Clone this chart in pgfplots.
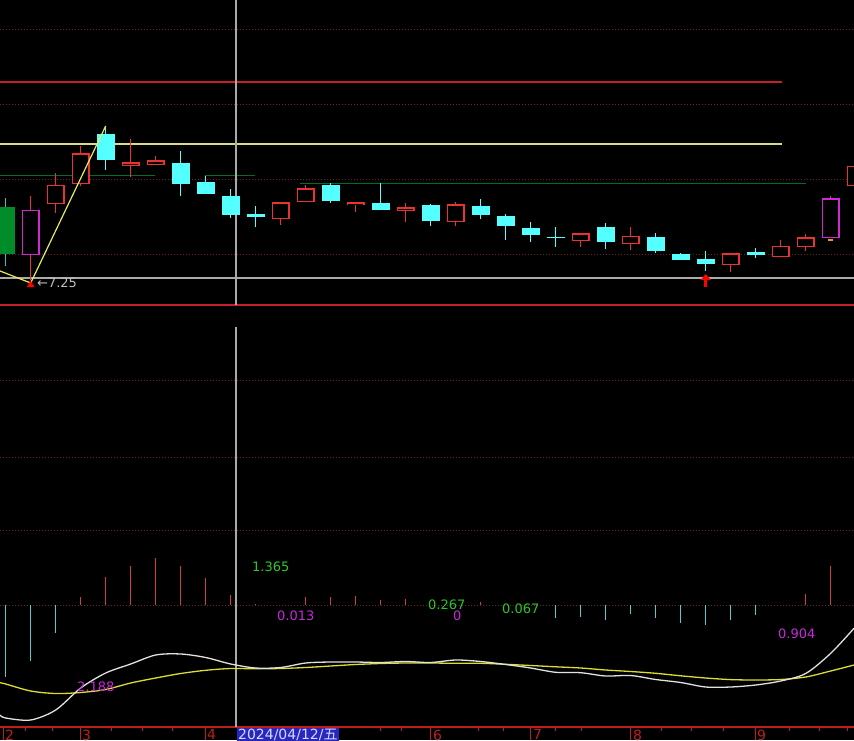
\documentclass[border=0pt]{standalone}
\usepackage{fontspec}
\setmainfont{DejaVu Sans}
\newfontfamily\cjk{Noto Sans CJK SC}
\usepackage{pgfplots}
\pgfplotsset{compat=1.18}
\usepackage{pgfplotstable}
\usetikzlibrary{arrows.meta}

\definecolor{kred}{RGB}{235,50,50}
\definecolor{kcyan}{RGB}{84,255,255}
\definecolor{kgreen}{RGB}{0,140,40}
\definecolor{kmag}{RGB}{210,40,210}
\definecolor{gridred}{RGB}{110,35,30}
\definecolor{linered}{RGB}{200,30,40}
\definecolor{lineyel}{RGB}{220,220,130}
\definecolor{linegrn}{RGB}{0,110,40}
\definecolor{crossg}{RGB}{170,170,170}
\definecolor{difw}{RGB}{225,225,225}
\definecolor{deay}{RGB}{220,220,50}
\definecolor{barred}{RGB}{210,60,60}
\definecolor{barcyan}{RGB}{90,200,210}
\definecolor{txtgreen}{RGB}{40,200,40}
\definecolor{txtmag}{RGB}{200,40,220}
\definecolor{axred}{RGB}{190,30,30}
\definecolor{datebox}{RGB}{40,40,190}

\newcommand\lbl{\fontsize{13}{15}\selectfont}
\newcommand\dlbl{\fontsize{14}{16}\selectfont}

% candles: index, high, body top, body bottom, low
\pgfplotstableread{
x hi top bot lo
4 7.558 7.541 7.490 7.469
7 7.507 7.483 7.442 7.417
8 7.457 7.446 7.422 7.422
9 7.431 7.418 7.380 7.373
10 7.398 7.381 7.375 7.355
13 7.443 7.440 7.407 7.403
15 7.443 7.403 7.390 7.390
17 7.401 7.399 7.367 7.357
19 7.411 7.398 7.380 7.371
20 7.381 7.377 7.357 7.329
21 7.365 7.353 7.340 7.325
22 7.355 7.335 7.333 7.315
24 7.363 7.355 7.325 7.311
26 7.343 7.335 7.307 7.303
27 7.303 7.301 7.290 7.289
28 7.307 7.291 7.281 7.267
30 7.313 7.305 7.299 7.293
}\downtab

\pgfplotstableread{
x hi top bot lo
2 7.464 7.440 7.402 7.384
3 7.518 7.503 7.442 7.437
5 7.531 7.485 7.478 7.455
6 7.497 7.489 7.479 7.479
11 7.405 7.405 7.372 7.360
12 7.440 7.433 7.405 7.405
14 7.405 7.405 7.399 7.385
16 7.403 7.395 7.387 7.365
18 7.405 7.401 7.365 7.357
23 7.343 7.343 7.327 7.315
25 7.355 7.338 7.322 7.310
29 7.303 7.303 7.280 7.265
31 7.329 7.318 7.295 7.295
32 7.341 7.335 7.315 7.308
34 7.478 7.478 7.437 7.437
}\uptab

\pgfplotstableread{
x hi top bot lo
0 7.414 7.395 7.302 7.277
}\greentab

\pgfplotstableread{
x hi top bot lo
1 7.417 7.390 7.299 7.250
33 7.418 7.413 7.333 7.333
}\magtab

% MACD histogram
\pgfplotstableread{
x v
0 -0.0717
1 -0.0557
2 -0.0283
3 0.0083
4 0.0283
5 0.0393
6 0.0467
7 0.0390
8 0.0273
9 0.0100
10 0.0010
12 0.0083
13 0.0083
14 0.0090
15 0.0050
16 0.0057
19 0.0033
22 -0.0133
23 -0.0123
24 -0.0150
25 -0.0090
26 -0.0133
27 -0.0177
28 -0.0200
29 -0.0150
30 -0.0100
32 0.0110
33 0.0390
}\histtab

% DIF (white) and DEA (yellow)
\pgfplotstableread{
x dif dea
-0.228 -0.1100 -0.0777
0 -0.1130 -0.0790
1 -0.1150 -0.0860
2 -0.1050 -0.0885
3 -0.0830 -0.0875
4 -0.0680 -0.0845
5 -0.0590 -0.0780
6 -0.0500 -0.0730
7 -0.0490 -0.0685
8 -0.0525 -0.0653
9 -0.0590 -0.0635
10 -0.0630 -0.0638
11 -0.0625 -0.0635
12 -0.0580 -0.0625
13 -0.0570 -0.0610
14 -0.0570 -0.0595
15 -0.0575 -0.0585
16 -0.0565 -0.0580
17 -0.0575 -0.0580
18 -0.0550 -0.0583
19 -0.0565 -0.0583
20 -0.0595 -0.0593
21 -0.0630 -0.0605
22 -0.0673 -0.0618
23 -0.0677 -0.0630
24 -0.0710 -0.0650
25 -0.0705 -0.0665
26 -0.0745 -0.0683
27 -0.0775 -0.0708
28 -0.0820 -0.0730
29 -0.0820 -0.0746
30 -0.0800 -0.0750
31 -0.0760 -0.0745
32 -0.0685 -0.0720
33 -0.0483 -0.0660
33.932 -0.0233 -0.0600
}\macdtab

\pgfplotsset{
  % vertical segment from y to y+v
  seg/.style={forget plot, mark=none, -, quiver/every arrow/.append style={-}, #1},
  hline/.style={forget plot, line width=1pt, #1},
  dotgrid/.style={forget plot, gridred, line width=1pt, dash pattern=on 1pt off 2pt},
}

\begin{document}
\begin{tikzpicture}
\path[use as bounding box] (0,0) rectangle (854pt,740pt);
\clip (0,0) rectangle (854pt,740pt);
\fill[black] (0,0) rectangle (854pt,740pt);

% ---------- price panel ----------
\begin{axis}[at={(0pt,434pt)}, anchor=south west, scale only axis,
  width=854pt, height=306pt,
  xmin=-0.228, xmax=33.932, ymin=7.198, ymax=7.81, hide axis]
  \addplot[dotgrid] coordinates {(-0.228,7.75) (33.932,7.75)};
  \addplot[dotgrid] coordinates {(-0.228,7.60) (33.932,7.60)};
  \addplot[dotgrid] coordinates {(-0.228,7.45) (33.932,7.45)};
  \addplot[dotgrid] coordinates {(-0.228,7.30) (33.932,7.30)};

  \addplot[hline={linered, line width=2pt}] coordinates {(-0.228,7.646) (31.05,7.646)};
  \addplot[hline={lineyel, line width=1.5pt}] coordinates {(-0.228,7.522) (31.05,7.522)};
  \addplot[hline={linegrn}] coordinates {(-0.228,7.458) (5.97,7.458)};
  \addplot[hline={linegrn}] coordinates {(7.97,7.458) (9.97,7.458)};
  \addplot[hline={linegrn}] coordinates {(11.77,7.442) (32.0,7.442)};
  \addplot[hline={crossg, line width=2pt}] coordinates {(-0.228,7.254) (33.932,7.254)};
  \addplot[hline={linered, line width=1.5pt}] coordinates {(-0.228,7.2) (33.932,7.2)};
  \addplot[hline={crossg, line width=1.5pt}] coordinates {(9.212,7.2) (9.212,7.81)};

  % wicks
  \addplot[seg={kcyan, line width=1.5pt}, quiver={u=0, v=\thisrow{hi}-\thisrow{lo}}] table[x=x, y=lo] {\downtab};
  \addplot[seg={kred, line width=1.5pt}, quiver={u=0, v=\thisrow{hi}-\thisrow{lo}}] table[x=x, y=lo] {\uptab};
  \addplot[seg={kcyan!75!black, line width=1.5pt}, quiver={u=0, v=\thisrow{hi}-\thisrow{lo}}] table[x=x, y=lo] {\greentab};
  \addplot[seg={kred, line width=1.5pt}, quiver={u=0, v=\thisrow{hi}-\thisrow{lo}}] table[x=x, y=lo] {\magtab};

  % bodies
  \addplot[seg={kcyan, line width=18pt}, quiver={u=0, v=\thisrow{top}-\thisrow{bot}}] table[x=x, y=bot] {\downtab};
  \addplot[seg={kgreen, line width=18pt}, quiver={u=0, v=\thisrow{top}-\thisrow{bot}}] table[x=x, y=bot] {\greentab};
  \addplot[seg={kred, line width=18pt}, quiver={u=0, v=\thisrow{top}-\thisrow{bot}}] table[x=x, y=bot] {\uptab};
  \addplot[seg={black, line width=15pt}, quiver={u=0, v={max(\thisrow{top}-\thisrow{bot}-0.005,0.0006)}}] table[x=x, y expr=\thisrow{bot}+0.0025] {\uptab};
  \addplot[seg={kmag, line width=18pt}, quiver={u=0, v=\thisrow{top}-\thisrow{bot}}] table[x=x, y=bot] {\magtab};
  \addplot[seg={black, line width=15pt}, quiver={u=0, v={max(\thisrow{top}-\thisrow{bot}-0.005,0.0006)}}] table[x=x, y expr=\thisrow{bot}+0.0025] {\magtab};

  % zigzag and markers
  \addplot[forget plot, color={rgb,255:red,235;green,235;blue,90}, line width=1.2pt] coordinates {(-0.228,7.268) (1,7.244) (4,7.558)};
  \addplot[forget plot, only marks, mark=triangle*, mark size=4pt, color=red] coordinates {(1,7.240)};
  \addplot[forget plot, red, line width=3pt, -{Triangle[width=10pt,length=6pt]}] coordinates {(28,7.236) (28,7.262)};
  \addplot[forget plot, color={rgb,255:red,230;green,150;blue,60}, line width=2pt] coordinates {(32.88,7.330) (33.08,7.330)};

  \node[anchor=west, inner sep=0pt, text={rgb,255:red,190;green,190;blue,190}, font=\lbl] at (axis cs:1.25,7.244) {←7.25};
\end{axis}

% ---------- lower panels ----------
\begin{axis}[at={(0pt,13pt)}, anchor=south west, scale only axis,
  width=854pt, height=421pt, clip mode=individual,
  xmin=-0.228, xmax=33.932, ymin=-0.122, ymax=0.299,
  axis x line*=bottom, axis y line=none,
  x axis line style={axred, line width=1.2pt, -},
  xtick={-0.108,2.972,7.972,17.01,21.01,25.01,30.01}, xticklabels={},
  minor xtick={0.81,1.89,4.25,5.49,6.69,15.01,15.85,18.93,19.93,21.99,23.05,26.25,27.45,28.73,31.37,32.57,33.69},
  tick align=outside, major tick length=13pt, minor tick length=4pt,
  every tick/.style={axred, line width=1pt}, ytick=\empty]
  \addplot[dotgrid] coordinates {(-0.228,0.225) (33.932,0.225)};
  \addplot[dotgrid] coordinates {(-0.228,0.148) (33.932,0.148)};
  \addplot[dotgrid] coordinates {(-0.228,0.075) (33.932,0.075)};
  \addplot[dotgrid] coordinates {(-0.228,0) (33.932,0)};

  \addplot[hline={crossg, line width=1.5pt}] coordinates {(9.212,0.278) (9.212,-0.122)};

  \addplot[forget plot, ycomb, barred, line width=1.5pt] table[x=x, y expr={\thisrow{v}>0 ? \thisrow{v} : 0}] {\histtab};
  \addplot[forget plot, ycomb, barcyan, line width=1.5pt] table[x=x, y expr={\thisrow{v}<0 ? \thisrow{v} : 0}] {\histtab};

  \addplot[forget plot, deay, line width=1.3pt, smooth] table[x=x, y=dea] {\macdtab};
  \addplot[forget plot, difw, line width=1.3pt, smooth] table[x=x, y=dif] {\macdtab};

  \node[anchor=west, inner sep=0pt, text=txtgreen, font=\lbl] at (axis cs:9.85,0.038) {1.365};
  \node[anchor=west, inner sep=0pt, text=txtmag, font=\lbl] at (axis cs:10.85,-0.011) {0.013};
  \node[anchor=west, inner sep=0pt, text=txtgreen, font=\lbl] at (axis cs:16.89,0.000) {0.267};
  \node[anchor=west, inner sep=0pt, text=txtmag, font=\lbl] at (axis cs:17.89,-0.011) {0};
  \node[anchor=west, inner sep=0pt, text=txtgreen, font=\lbl] at (axis cs:19.85,-0.004) {0.067};
  \node[anchor=west, inner sep=0pt, text=txtmag, font=\lbl] at (axis cs:30.89,-0.029) {0.904};
  \node[anchor=west, inner sep=0pt, text=txtmag, font=\lbl] at (axis cs:2.85,-0.082) {2.188};

  \node[anchor=north west, inner sep=0pt, yshift=-2.5pt, text=axred, font=\dlbl] at (axis cs:-0.028,-0.122) {2};
  \node[anchor=north west, inner sep=0pt, yshift=-2.5pt, text=axred, font=\dlbl] at (axis cs:3.05,-0.122) {3};
  \node[anchor=north west, inner sep=0pt, yshift=-2.5pt, text=axred, font=\dlbl] at (axis cs:8.05,-0.122) {4};
  \node[anchor=north west, inner sep=0pt, yshift=-2.5pt, text=axred, font=\dlbl] at (axis cs:17.09,-0.122) {6};
  \node[anchor=north west, inner sep=0pt, yshift=-2.5pt, text=axred, font=\dlbl] at (axis cs:21.09,-0.122) {7};
  \node[anchor=north west, inner sep=0pt, yshift=-2.5pt, text=axred, font=\dlbl] at (axis cs:25.09,-0.122) {8};
  \node[anchor=north west, inner sep=0pt, yshift=-2.5pt, text=axred, font=\dlbl] at (axis cs:30.05,-0.122) {9};
  \node[anchor=north west, inner sep=1pt, yshift=-1pt, fill=datebox, text={rgb,255:red,215;green,215;blue,255}, font=\dlbl] at (axis cs:9.25,-0.122) {2024/04/12/{\cjk 五}};
\end{axis}
\end{tikzpicture}
\end{document}
